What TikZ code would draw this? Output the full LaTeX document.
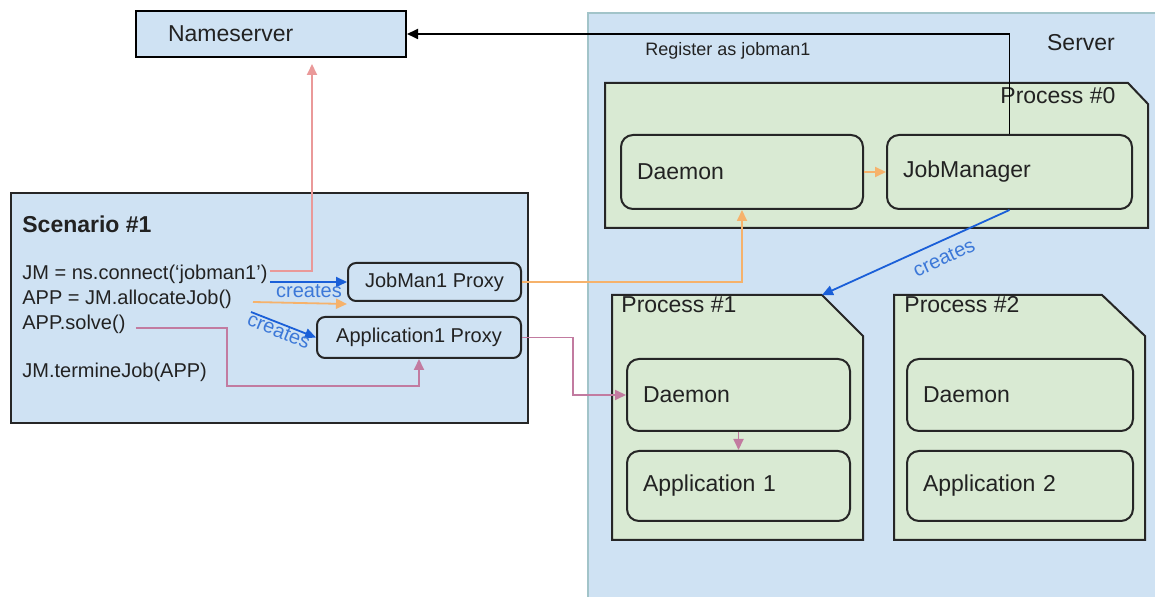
\documentclass[tikz,border=0pt]{standalone}
\usepackage{fontspec}
\setmainfont{Liberation Sans}
\usetikzlibrary{arrows.meta,calc}
\definecolor{bluefill}{HTML}{CFE2F3}
\definecolor{greenfill}{HTML}{D9EAD3}
\definecolor{servline}{HTML}{A2C4C9}
\definecolor{orng}{HTML}{F6B26B}
\definecolor{salm}{HTML}{EA9999}
\definecolor{magn}{HTML}{C27BA0}
\definecolor{arrblue}{HTML}{1A5FD8}
\definecolor{lblblue}{HTML}{3C78D8}
\definecolor{txt}{HTML}{222222}
\tikzset{
  big/.style={font=\fontsize{11.5}{13}\selectfont, text=txt},
  mid/.style={font=\fontsize{10}{12}\selectfont, text=txt},
  sqbox/.style={draw=black, line width=1pt, fill=bluefill, anchor=north west, align=left, big},
  inbox/.style={draw=black!85, line width=1pt, fill=greenfill, rounded corners=6pt, anchor=north west, align=left, big, inner xsep=8pt},
  pxbox/.style={draw=black!85, line width=1pt, fill=bluefill, rounded corners=4pt, anchor=north west, mid, inner sep=0pt},
  proc/.style={draw=black!85, line width=1pt, fill=greenfill},
  codeline/.style={mid, anchor=west, inner sep=0pt},
  tip/.style={-{Triangle[length=5.5pt,width=5pt]}},
  conn/.style={tip, line width=0.9pt},
  lbl/.style={font=\fontsize{10}{12}\selectfont, text=lblblue, inner sep=0pt},
}
\begin{document}
\begin{tikzpicture}[x=0.5pt,y=-0.5pt]
\useasboundingbox (0,0) rectangle (1155,597);
% server area
\fill[bluefill] (588,13) rectangle (1170,610);
\draw[servline, line width=0.8pt] (588,610) -- (588,13) -- (1170,13);
\node[big] (srv) at (1081,43) {Server};
\node[anchor=west, font=\fontsize{9}{11}\selectfont, text=txt, inner sep=0pt] (reg) at (645,51) {Register as jobman1};
% processes
\draw[proc] (605,83) -- (1128,83) -- (1148,104) -- (1148,228) -- (605,228) -- cycle;
\draw[proc] (612,295) coordinate (p1nw) -- (822,295) coordinate (p1c) -- (863,336) -- (863,540) -- (612,540) -- cycle;
\draw[proc] (894,295) -- (1102,295) -- (1145,336) -- (1145,540) -- (894,540) -- cycle;
\node[big, anchor=west, inner sep=0pt] (p0l) at (1000,96) {Process \#0};
\node[big, anchor=west, inner sep=0pt] (p1l) at (621,305) {Process \#1};
\node[big, anchor=west, inner sep=0pt] (p2l) at (904,305) {Process \#2};
% inner boxes
\node[inbox, minimum height=37pt, text width=105pt] (d0) at (620,134) {Daemon};
\node[inbox, minimum height=37pt, text width=106.5pt] (jm) at (886,134) {JobManager};
\node[inbox, minimum height=36pt, text width=95.5pt] (d1) at (626,358) {Daemon};
\node[inbox, minimum height=35pt, text width=95.5pt] (a1) at (626,450) {Application 1};
\node[inbox, minimum height=36pt, text width=97pt] (d2) at (906,358) {Daemon};
\node[inbox, minimum height=35pt, text width=97pt] (a2) at (906,450) {Application 2};
% nameserver
\node[sqbox, minimum height=23pt, inner xsep=16pt, text width=103pt] (ns) at (135,10) {Nameserver};
% scenario
\node[draw=black!85, line width=1pt, fill=bluefill, anchor=north west, minimum width=258.5pt, minimum height=115pt] (scen) at (10,192) {};
\node[big, anchor=west, inner sep=0pt, font=\fontsize{11.5}{13}\selectfont\bfseries] (st) at (22,224) {Scenario \#1};
\node[codeline] (l1) at (22,274) {JM = ns.connect(‘jobman1’)};
\node[codeline] (l2) at (22,299) {APP = JM.allocateJob()};
\node[codeline] (l3) at (22,324) {APP.solve()};
\node[codeline] (l4) at (22,372) {JM.termineJob(APP)};
\node[pxbox, minimum width=86.5pt, minimum height=19pt] (jmp) at (347,262) {JobMan1 Proxy};
\node[pxbox, minimum width=102pt, minimum height=20.5pt] (app) at (316,316) {Application1 Proxy};
% connectors
\coordinate (nsin) at (312,64);
\coordinate (o1) at (253,302);
\coordinate (c2s) at (251,312);
\coordinate (pk) at (573,394);
\draw[conn, black] (jm.north) |- (ns.east);
\draw[conn, salm] ([xshift=1pt,yshift=1.5pt]l1.east) -| (nsin);
\draw[conn, arrblue] ([xshift=1pt]l1.east |- jmp.west) -- (jmp.west);
\node[lbl] (cr1) at (309,291) {creates};
\draw[conn, orng] (o1) -- ([yshift=-1pt]jmp.south west);
\draw[conn, arrblue] (c2s) -- (app.west);
\node[lbl, rotate=-22] (cr2) at (279,331) {creates};
\draw[conn, magn] ([xshift=5pt,yshift=-2pt]l3.east) -| (227,386) -| (app.south);
\draw[conn, magn] (app.east) -| (pk |- d1.west) -- (d1.west);
\draw[conn, orng] (jmp.east) -| (d0.south);
\draw[conn, orng] (d0.east) -- (jm.west);
\draw[conn, magn] (d1.south) -- (a1.north);
\draw[conn, arrblue] (jm.south) -- (p1c);
\node[lbl, rotate=25] (cr3) at (944,258) {creates};
\end{tikzpicture}
\end{document}
